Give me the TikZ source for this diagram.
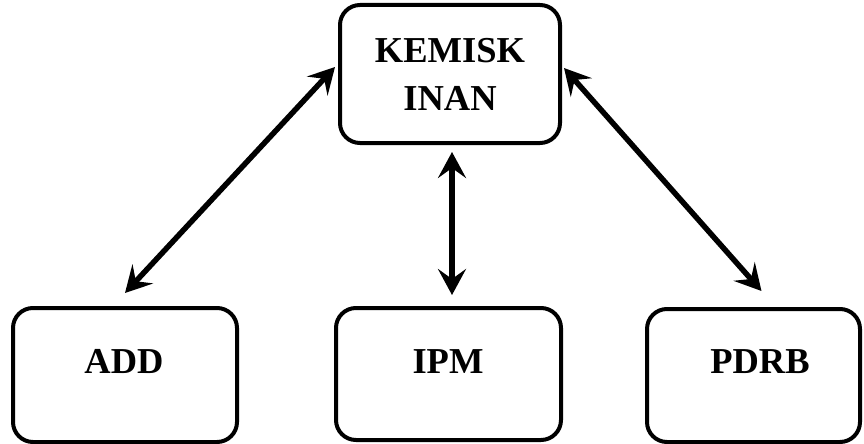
\documentclass[tikz,border=0pt]{standalone}
\usepackage{fontspec}
\setmainfont{Liberation Serif}
\usetikzlibrary{arrows.meta}
\begin{document}
\begin{tikzpicture}[x=1pt,y=-1pt,
 box/.style={draw, line width=4pt, rounded corners=20pt, inner sep=0pt},
 lbl/.style={font=\fontsize{36.5}{48}\selectfont\bfseries, align=center, inner sep=0pt},
 link/.style={line width=5.5pt, {Stealth[length=26pt,width=28pt,inset=10pt]}-{Stealth[length=26pt,width=28pt,inset=10pt]}}]
\useasboundingbox (0,0) rectangle (864,444);
\node[box, lbl, minimum width=220pt, minimum height=138pt] (top) at (450,74) {KEMISK\\INAN};
\node[box, minimum width=224pt, minimum height=134pt] (add) at (125,375) {};
\node[box, minimum width=225pt, minimum height=132pt] (ipm) at (448.5,374) {};
\node[box, minimum width=213pt, minimum height=133pt] (pdrb) at (753.5,375.5) {};
\node[lbl, anchor=base] (addt) at (124,373) {ADD};
\node[lbl, anchor=base] (ipmt) at (448,373) {IPM};
\node[lbl, anchor=base] (pdrbt) at (760,373) {PDRB};
\draw[link] ([xshift=-3pt,yshift=7pt]top.west) -- ([yshift=13pt]add.north);
\draw[link] ([xshift=2pt,yshift=-7pt]top.south) -- ([xshift=3.5pt,yshift=11pt]ipm.north);
\draw[link] ([xshift=2pt,yshift=6pt]top.east) -- ([xshift=8pt,yshift=16pt]pdrb.north);
\end{tikzpicture}
\end{document}
